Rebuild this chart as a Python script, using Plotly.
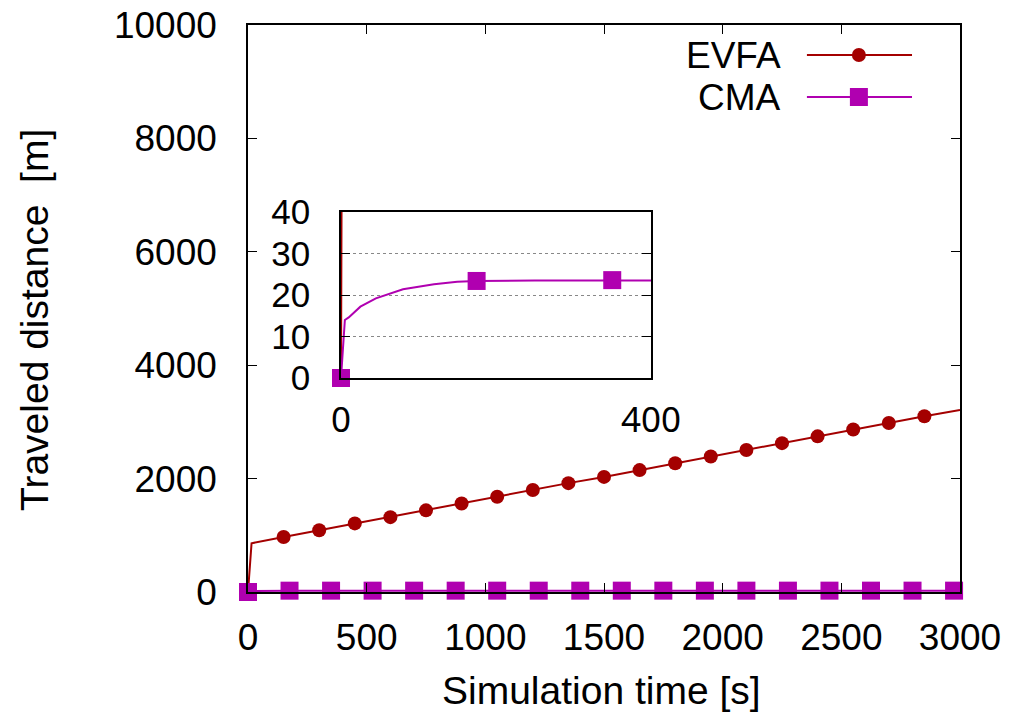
import plotly.graph_objects as go

# ---------------- data ----------------
evfa_t = [0, 15, 150, 300, 450, 600, 750, 900, 1050, 1200, 1350, 1500, 1650, 1800,
          1950, 2100, 2250, 2400, 2550, 2700, 2850, 3000]
evfa_d = [0, 860, 970, 1090, 1210, 1320, 1440, 1560, 1680, 1800, 1920, 2030, 2150, 2270,
          2390, 2505, 2625, 2745, 2865, 2980, 3100, 3210]
evfa_mark_t = [150, 300, 450, 600, 750, 900, 1050, 1200, 1350, 1500, 1650, 1800,
               1950, 2100, 2250, 2400, 2550, 2700, 2850]

cma_t = [0, 5, 10, 25, 45, 65, 80, 100, 120, 150, 175, 250, 350, 400, 1000, 2000, 3000]
cma_d = [0, 14.0, 14.6, 17.2, 19.2, 20.4, 21.4, 22.0, 22.6, 23.2, 23.4, 23.5, 23.6, 23.6,
         23.7, 23.8, 23.8]
cma_mark_t = [0, 175, 350, 525, 700, 875, 1050, 1225, 1400, 1575, 1750, 1925,
              2100, 2275, 2450, 2625, 2800, 2975]
cma_mark_d = [0, 23.4, 23.6, 23.6, 23.6, 23.7, 23.7, 23.7, 23.7, 23.7, 23.8, 23.8,
              23.8, 23.8, 23.8, 23.8, 23.8, 23.8]

main_xticks = [0, 500, 1000, 1500, 2000, 2500, 3000]
main_yticks = [0, 2000, 4000, 6000, 8000, 10000]
inset_xticks = [0, 400]
inset_yticks = [0, 10, 20, 30, 40]
series_names = ["EVFA", "CMA"]

# ---------------- styles ----------------
EVFA_C = "#a40000"
CMA_C = "#b000b0"
FONT = "Liberation Sans, Arial, sans-serif"

evfa_lookup = dict(zip(evfa_t, evfa_d))
evfa_mark_d = [evfa_lookup[t] for t in evfa_mark_t]

fig = go.Figure()

# main plot
fig.add_trace(go.Scatter(x=evfa_t, y=evfa_d, mode="lines",
                         line=dict(color=EVFA_C, width=2), xaxis="x", yaxis="y",
                         showlegend=False, hoverinfo="skip"))
fig.add_trace(go.Scatter(x=evfa_mark_t, y=evfa_mark_d, mode="markers",
                         marker=dict(color=EVFA_C, size=14, symbol="circle"),
                         xaxis="x", yaxis="y", showlegend=False, cliponaxis=False))
fig.add_trace(go.Scatter(x=cma_t, y=cma_d, mode="lines",
                         line=dict(color=CMA_C, width=2), xaxis="x", yaxis="y",
                         showlegend=False, hoverinfo="skip"))
fig.add_trace(go.Scatter(x=cma_mark_t, y=cma_mark_d, mode="markers",
                         marker=dict(color=CMA_C, size=18, symbol="square"),
                         xaxis="x", yaxis="y", showlegend=False, cliponaxis=False))

# inset
fig.add_trace(go.Scatter(x=evfa_t, y=evfa_d, mode="lines",
                         line=dict(color=EVFA_C, width=2), xaxis="x2", yaxis="y2",
                         showlegend=False, hoverinfo="skip"))
fig.add_trace(go.Scatter(x=cma_t, y=cma_d, mode="lines",
                         line=dict(color=CMA_C, width=2), xaxis="x2", yaxis="y2",
                         showlegend=False, hoverinfo="skip"))
in_t = [t for t in cma_mark_t if t <= inset_xticks[-1]]
in_d = [d for t, d in zip(cma_mark_t, cma_mark_d) if t <= inset_xticks[-1]]
fig.add_trace(go.Scatter(x=in_t, y=in_d, mode="markers",
                         marker=dict(color=CMA_C, size=18, symbol="square"),
                         xaxis="x2", yaxis="y2", showlegend=False, cliponaxis=False))

axis_common = dict(showline=True, linecolor="black", linewidth=1.5, mirror="ticks",
                   ticks="inside", ticklen=9, tickwidth=1.2, tickcolor="black",
                   showgrid=False, zeroline=False, automargin=False)

fig.update_layout(
    width=1017, height=721,
    margin=dict(l=248, r=57, t=25, b=129),
    paper_bgcolor="white", plot_bgcolor="white",
    font=dict(family=FONT, color="black"),
    showlegend=False,
    xaxis=dict(domain=[0, 1], range=[0, 3000], tickvals=main_xticks,
               ticktext=[str(v) for v in main_xticks],
               tickfont=dict(size=37), ticklabelstandoff=12, **axis_common),
    yaxis=dict(domain=[0, 1], range=[0, 10000], tickvals=main_yticks,
               ticktext=[str(v) for v in main_yticks],
               tickfont=dict(size=37), ticklabelstandoff=22, **axis_common),
    xaxis2=dict(domain=[0.1306, 0.566], range=[0, 400], anchor="y2",
                tickvals=inset_xticks, ticktext=[str(v) for v in inset_xticks],
                tickfont=dict(size=35, family="Noto Sans, Open Sans, sans-serif"),
                ticklabelstandoff=10, **axis_common),
    yaxis2=dict(domain=[0.3774, 0.670], range=[0, 40], anchor="x2",
                tickvals=inset_yticks, ticktext=[str(v) for v in inset_yticks],
                tickfont=dict(size=35), ticklabelstandoff=22,
                **{**axis_common, "showgrid": True, "gridcolor": "#888888",
                   "griddash": "dot", "gridwidth": 1}),
)

# axis titles
fig.add_annotation(text="Simulation time [s]", xref="paper", yref="paper",
                   x=0.497, y=-0.173, xanchor="center", yanchor="middle",
                   showarrow=False, font=dict(size=39, family=FONT))
fig.add_annotation(text="Traveled distance  [m]", xref="paper", yref="paper",
                   x=-0.299, y=0.48, xanchor="center", yanchor="middle",
                   textangle=-90, showarrow=False, font=dict(size=39, family=FONT))

# manual legend (gnuplot style: text left, sample right)
leg_y = [0.947, 0.873]
leg_cols = [EVFA_C, CMA_C]
for name, yy, col, sym in zip(series_names, leg_y, leg_cols, ["circle", "rect"]):
    fig.add_annotation(text=name, xref="paper", yref="paper", x=0.752, y=yy,
                       xanchor="right", yanchor="middle", showarrow=False,
                       font=dict(size=37, family=FONT))
    fig.add_shape(type="line", xref="paper", yref="paper", x0=0.785, x1=0.9326,
                  y0=yy, y1=yy, line=dict(color=col, width=2))
    s = 14 if sym == "circle" else 18
    fig.add_shape(type=sym, xref="paper", yref="paper",
                  xsizemode="pixel", ysizemode="pixel", xanchor=0.858, yanchor=yy,
                  x0=-s / 2, x1=s / 2, y0=-s / 2, y1=s / 2,
                  fillcolor=col, line=dict(color=col, width=0))

fig.write_html("out.html")
